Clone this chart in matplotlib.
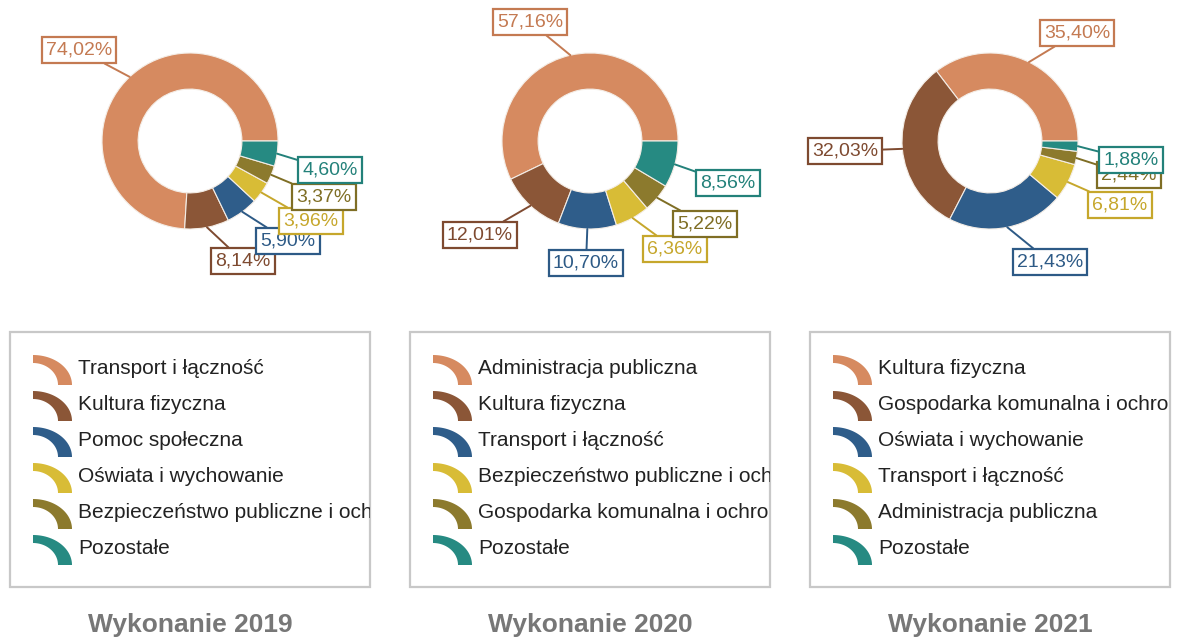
import numpy as np
import matplotlib.pyplot as plt
from matplotlib.patches import Rectangle, Polygon

plt.rcParams['font.family'] = ['Liberation Sans', 'DejaVu Sans']

W, H = 1179, 642

years = ['2019', '2020', '2021']

names_2019 = ['Transport i łączność', 'Kultura fizyczna', 'Pomoc społeczna',
              'Oświata i wychowanie', 'Bezpieczeństwo publiczne i ochrona przeciwpożarowa',
              'Pozostałe']
shares_2019 = [74.02, 8.14, 5.90, 3.96, 3.37, 4.60]

names_2020 = ['Administracja publiczna', 'Kultura fizyczna', 'Transport i łączność',
              'Bezpieczeństwo publiczne i ochrona przeciwpożarowa',
              'Gospodarka komunalna i ochrona środowiska', 'Pozostałe']
shares_2020 = [57.16, 12.01, 10.70, 6.36, 5.22, 8.56]

names_2021 = ['Kultura fizyczna', 'Gospodarka komunalna i ochrona środowiska',
              'Oświata i wychowanie', 'Transport i łączność',
              'Administracja publiczna', 'Pozostałe']
shares_2021 = [35.40, 32.03, 21.43, 6.81, 2.44, 1.88]

colors = ['#D68A60', '#8B5637', '#2F5D8A', '#D8BC36', '#8C7A2D', '#268A82']
label_colors = ['#C47A52', '#7E4A30', '#2D5A86', '#C6A72C', '#7F6E25', '#23817A']

# donut centres and label box centres, in pixels from the top-left corner
centres = [(190, 141), (590, 141), (990, 141)]
label_pos = [
    [(79, 50), (243, 261), (288, 241), (311, 221), (324, 197), (330, 170)],
    [(530, 22), (480, 235), (586, 263), (675, 249), (705, 224), (728, 183)],
    [(1077, 33), (845, 151), (1050, 262), (1120, 205), (1129, 175), (1131, 160)],
]
R = 88

fig = plt.figure(figsize=(W / 100, H / 100), dpi=100)
ax = fig.add_axes([0, 0, 1, 1])


def fmt(v):
    return f'{v:.2f}'.replace('.', ',') + '%'


def legend_icon(x, y, color):
    # quarter of an elliptic ring, corner at (x, y) in pixel coords (y down)
    t = np.linspace(0, np.pi / 2, 30)
    outer = np.c_[x + 39 * np.cos(t), H - y + 30 * np.sin(t)]
    inner = np.c_[x + 25 * np.cos(t[::-1]), H - y + 22 * np.sin(t[::-1])]
    ax.add_patch(Polygon(np.vstack([outer, inner]), closed=True, fc=color, ec='none'))


data = [(names_2019, shares_2019), (names_2020, shares_2020), (names_2021, shares_2021)]

# donuts with boxed percentage labels
for k, (names, shares) in enumerate(data):
    cx, cy = centres[k]
    wedges, _ = ax.pie(shares, colors=colors, startangle=0, counterclock=True,
                       center=(cx, H - cy), radius=R,
                       wedgeprops=dict(width=R * 0.41, edgecolor='#f4ede6', linewidth=0.8))
    for i, w in enumerate(wedges):
        mid = np.deg2rad((w.theta1 + w.theta2) / 2)
        px = cx + R * np.cos(mid)
        py = H - cy + R * np.sin(mid)
        tx, ty = label_pos[k][i]
        ax.annotate(fmt(shares[i]), xy=(px, py), xytext=(tx, H - ty),
                    ha='center', va='center', fontsize=14, color=label_colors[i],
                    bbox=dict(boxstyle='square,pad=0.22', fc='white',
                              ec=label_colors[i], lw=1.6),
                    arrowprops=dict(arrowstyle='-', color=label_colors[i], lw=1.4,
                                    shrinkA=0, shrinkB=0),
                    zorder=5 + i)

# pie() resets the limits, so fix them before measuring legend text
ax.set_xlim(0, W)
ax.set_ylim(0, H)
ax.set_aspect('auto')
ax.axis('off')
renderer = fig.canvas.get_renderer()

for k, (names, shares) in enumerate(data):
    cx, cy = centres[k]
    # legend box; long names run past the right border and are cut there
    x0 = cx - 180
    right = x0 + 360
    box = Rectangle((x0, H - 587), 360, 255, fc='none', ec='#c8c8c8', lw=1.6)
    ax.add_patch(box)
    for i, name in enumerate(names):
        ry = 369 + 36 * i
        legend_icon(x0 + 23, ry + 16, colors[i])
        t = ax.text(x0 + 68, H - ry, name, fontsize=15, color='#222222',
                    ha='left', va='center', clip_on=True)
        t.set_clip_path(box)
        s = name
        while t.get_window_extent(renderer).x1 > right + 6:
            s = s[:-1].rstrip()
            t.set_text(s)

    ax.text(cx, H - 625, 'Wykonanie ' + years[k], fontsize=19, fontweight='bold',
            color='#777777', ha='center', va='center')

fig.savefig('out.png', dpi=100, facecolor='white')
